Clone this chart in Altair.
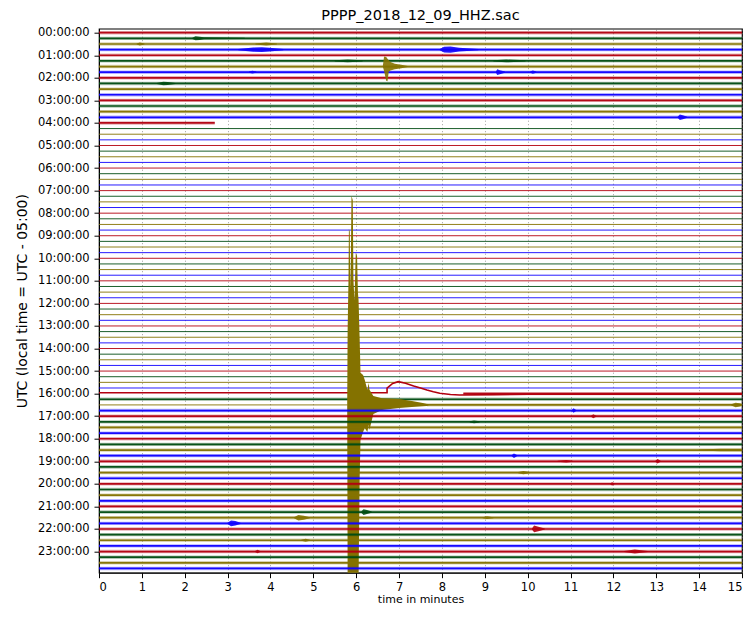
import altair as alt
import pandas as pd

TITLE = "PPPP_2018_12_09_HHZ.sac"
Y_TITLE = "UTC (local time = UTC - 05:00)"
X_TITLE = "time in minutes"
TRACE_COLORS = ["#B2000F", "#004C12", "#847200", "#0E01FF"]  # cycle per 15-min trace
HOUR_TICKS = list(range(0, 96, 4))          # trace index of each full hour
MINUTE_TICKS = list(range(0, 16))

# traces (15 minutes each, index 0 = 00:00) with continuous noisy signal
noisy_traces = list(range(0, 16)) + [65] + list(range(67, 96))
# traces with a flat (no signal) line over the whole window
flat_traces = list(range(17, 64))
# partial segments: trace, start minute, end minute, noisy?
part_trace = [16, 64, 66, 66]
part_x0 = [0.0, 8.5, 0.0, 7.65]
part_x1 = [2.7, 15.0, 5.8, 15.0]
part_noisy = [True, True, False, True]

# restart transient on trace 64 (16:00), offset in trace spacings (negative = up)
tr64_x = [0, 6.72, 6.72, 6.85, 6.98, 7.15, 7.34, 7.5, 7.65, 7.8, 7.95, 8.2, 8.41, 9.2, 10, 15]
tr64_off = [-0.15, -0.15, -0.96, -1.8, -2.13, -1.85, -1.37, -1.0, -0.66, -0.35, -0.07, 0.15, 0.23, 0.18, 0.1, 0.1]

# large earthquake on trace 66 (16:30): upper / lower envelope, in trace spacings
quake_trace = 66
quake_x = [5.79, 5.80, 5.82, 5.83, 5.85, 5.86, 5.875, 5.89, 5.92, 5.935, 5.96, 5.99, 6.02, 6.04,
           6.055, 6.08, 6.10, 6.16, 6.20, 6.26, 6.29, 6.31, 6.40, 6.60, 7.00, 7.30, 7.65, 7.70]
quake_up = [0, 13.3, 22.2, 31.2, 30.7, 20.4, 25.7, 37.1, 36.3, 22.2, 18.6, 27.0, 26.4, 19.9,
            18.6, 12.0, 5.7, 5.3, 4.4, 2.7, 3.9, 2.7, 1.6, 1.2, 1.06, 0.7, 0.2, 0]
quake_down = [0, 31, 31, 31, 31, 31, 31, 31, 31, 31, 31, 31, 31, 31,
              31, 13.3, 6.2, 4.8, 4.1, 4.8, 3.5, 4.4, 1.6, 0.9, 0.53, 0.35, 0.18, 0]

# local event on trace 6 (01:30): asymmetric envelope
ev6_x = [6.62, 6.65, 6.70, 6.73, 6.76, 6.80, 6.90, 7.05, 7.20]
ev6_up = [0, 1.8, 1.7, 1.4, 1.1, 0.8, 0.5, 0.3, 0.1]
ev6_down = [0, 0.8, 2.5, 2.6, 0.9, 0.7, 0.5, 0.3, 0.1]

# small bursts: trace, minutes, half amplitude (trace spacings)
blob_trace = [1, 2, 2, 3, 3, 5, 5, 7, 7, 7, 9, 15, 67, 68, 69, 74, 75, 76, 76, 78, 80,
              85, 86, 86, 87, 88, 90, 92, 92, 66]
blob_x = [
    [2.18, 2.25, 2.35, 2.45, 3.4],
    [0.88, 0.95, 1.06],
    [3.65, 3.9, 4.15],
    [3.25, 3.6, 3.8, 3.97, 4.3],
    [7.95, 8.05, 8.2, 8.4, 8.85],
    [5.5, 5.8, 6.15],
    [9.2, 9.5, 9.95],
    [3.5, 3.58, 3.67],
    [9.26, 9.29, 9.35, 9.47],
    [10.06, 10.12, 10.2],
    [1.35, 1.5, 1.6, 1.78],
    [13.5, 13.55, 13.62, 13.72],
    [11.03, 11.07, 11.13],
    [11.48, 11.53, 11.6],
    [8.65, 8.75, 8.88],
    [14.0, 14.5, 15.0],
    [9.63, 9.68, 9.75],
    [10.7, 10.9, 11.05],
    [12.98, 13.03, 13.1],
    [9.78, 9.9, 10.05],
    [11.93, 11.97, 12.02],
    [6.12, 6.17, 6.25, 6.36],
    [4.55, 4.65, 4.78, 4.92],
    [8.95, 9.05, 9.2],
    [3.0, 3.08, 3.18, 3.3],
    [10.1, 10.15, 10.25, 10.4],
    [4.72, 4.82, 4.92],
    [3.64, 3.7, 3.76],
    [12.25, 12.5, 12.8],
    [14.75, 14.85, 14.95, 15.0],
]
blob_amp = [
    [0.1, 0.35, 0.3, 0.18, 0.1],
    [0.1, 0.25, 0.1],
    [0.1, 0.25, 0.1],
    [0.1, 0.38, 0.42, 0.33, 0.1],
    [0.1, 0.5, 0.55, 0.35, 0.1],
    [0.1, 0.25, 0.1],
    [0.1, 0.25, 0.1],
    [0.1, 0.25, 0.1],
    [0.1, 0.5, 0.35, 0.1],
    [0.1, 0.3, 0.1],
    [0.1, 0.32, 0.28, 0.1],
    [0.1, 0.5, 0.35, 0.1],
    [0.1, 0.4, 0.1],
    [0.1, 0.35, 0.1],
    [0.1, 0.25, 0.1],
    [0.1, 0.22, 0.22],
    [0.1, 0.4, 0.1],
    [0.1, 0.22, 0.1],
    [0.1, 0.4, 0.1],
    [0.1, 0.3, 0.1],
    [0.1, 0.3, 0.1],
    [0.1, 0.5, 0.35, 0.1],
    [0.1, 0.5, 0.35, 0.1],
    [0.1, 0.25, 0.1],
    [0.1, 0.5, 0.4, 0.1],
    [0.1, 0.6, 0.4, 0.1],
    [0.1, 0.25, 0.1],
    [0.1, 0.3, 0.1],
    [0.1, 0.35, 0.1],
    [0.1, 0.4, 0.3, 0.15],
]

# ---------------- build tables ----------------
seg_rows = []
sid = 0
def add_seg(t, x0, x1, noisy):
    global sid
    for x in (x0, x1):
        seg_rows.append({"seg": sid, "trace": t, "x": x, "y": t,
                         "c": t % 4, "noisy": noisy, "late": t >= 67})
    sid += 1

for t in noisy_traces:
    add_seg(t, 0.0, 15.0, True)
for t in flat_traces:
    add_seg(t, 0.0, 15.0, False)
for t, a, b, n in zip(part_trace, part_x0, part_x1, part_noisy):
    add_seg(t, a, b, n)
seg = pd.DataFrame(seg_rows)

tr64 = pd.DataFrame({"x": tr64_x, "y": [64 + o for o in tr64_off],
                     "i": list(range(len(tr64_x))), "c": 64 % 4})

ev_rows = []
eid = 0
def add_ev(t, xs, up, down):
    global eid
    for x, u, d in zip(xs, up, down):
        ev_rows.append({"ev": eid, "x": x, "y": t - u, "y2": t + d, "c": t % 4, "late": t >= 67})
    eid += 1

add_ev(6, ev6_x, ev6_up, ev6_down)
for t, xs, a in zip(blob_trace, blob_x, blob_amp):
    add_ev(t, xs, a, a)
ev = pd.DataFrame(ev_rows)

quake = pd.DataFrame({"x": quake_x,
                      "y": [quake_trace - u for u in quake_up],
                      "y2": [quake_trace + d for d in quake_down],
                      "c": quake_trace % 4})

# ---------------- encodings ----------------
xsc = alt.Scale(domain=[0, 15], nice=False, zero=False)
ysc = alt.Scale(domain=[-0.71, 95.75], reverse=True, nice=False, zero=False)
csc = alt.Scale(domain=[0, 1, 2, 3], range=TRACE_COLORS)

label_expr = "(datum.value/4 < 10 ? '0' : '') + (datum.value/4) + ':00:00'"

X = alt.X("x:Q", scale=xsc, axis=alt.Axis(values=MINUTE_TICKS, format="d", title=X_TITLE,
                                          grid=True, gridDash=[1, 2.5], gridColor="#666666",
                                          gridWidth=0.8, gridOpacity=0.8))
Y = alt.Y("y:Q", scale=ysc, axis=alt.Axis(values=HOUR_TICKS, labelExpr=label_expr,
                                          title=Y_TITLE, grid=False))
C = alt.Color("c:O", scale=csc, legend=None)

def lines(df, noisy, late):
    d = df[(df.noisy == noisy) & (df.late == late)]
    if noisy:
        halo = alt.Chart(d).mark_line(strokeWidth=3.4, opacity=0.3, clip=True).encode(
            x=X, y=Y, color=C, detail="seg:N")
        core = alt.Chart(d).mark_line(strokeWidth=1.7, opacity=0.95, clip=True).encode(
            x=X, y=Y, color=C, detail="seg:N")
        return [halo, core]
    return [alt.Chart(d).mark_line(strokeWidth=1.0, opacity=0.9, clip=True).encode(
        x=X, y=Y, color=C, detail="seg:N")]

layers = []
layers += lines(seg, False, False)
layers += lines(seg, True, False)
layers.append(alt.Chart(tr64).mark_line(strokeWidth=1.6, clip=True).encode(
    x=X, y=Y, color=C, order="i:Q"))
layers.append(alt.Chart(ev[~ev.late]).mark_area(opacity=0.9, clip=True).encode(
    x=X, y=Y, y2="y2:Q", color=C, detail="ev:N"))
layers.append(alt.Chart(quake).mark_area(opacity=1.0, clip=True).encode(
    x=X, y=Y, y2="y2:Q", color=C))
layers += lines(seg, True, True)
layers.append(alt.Chart(ev[ev.late]).mark_area(opacity=0.9, clip=True).encode(
    x=X, y=Y, y2="y2:Q", color=C, detail="ev:N"))

chart = alt.layer(*layers).properties(
    width=643, height=544,
    title=alt.TitleParams(TITLE, fontSize=14.5, font="DejaVu Sans", fontWeight="normal",
                          anchor="middle", offset=3, color="#000000"),
    autosize=alt.AutoSizeParams(type="none"),
    padding={"left": 91, "top": 20.7, "right": 6, "bottom": 35},
).configure_view(stroke="#000000", strokeWidth=1.2).configure_axis(
    labelFont="DejaVu Sans", titleFont="DejaVu Sans", labelFontSize=11.5,
    titleFontWeight="normal", labelColor="#000000", titleColor="#000000",
    domainColor="#000000", tickColor="#000000", tickSize=5, labelPadding=5,
).configure_axisY(titleFontSize=14, titlePadding=8).configure_axisX(
    titleFontSize=11, titlePadding=1, labelPadding=3.5)

chart.save("out.html", embed_options={"renderer": "svg", "actions": False})
